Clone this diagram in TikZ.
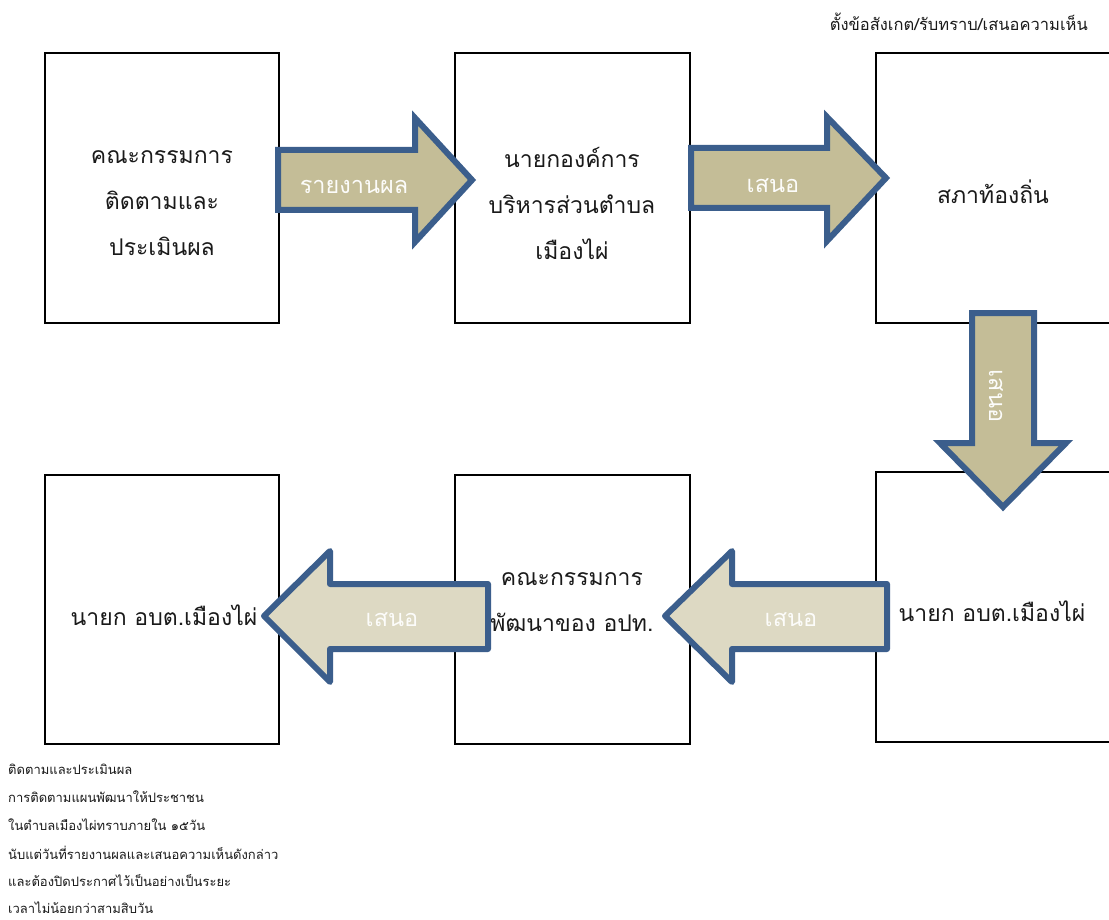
\documentclass[tikz,border=0pt]{standalone}
\usepackage{fontspec}
\newfontfamily\thai[Script=Thai]{Loma}
\definecolor{tanA}{HTML}{C4BD97}
\definecolor{tanB}{HTML}{DDD9C3}
\definecolor{arrowblue}{HTML}{3B5E8C}
\definecolor{inktext}{HTML}{1A1A1A}
\tikzset{
  box/.style={draw=black, line width=1.2pt, fill=white, inner sep=0pt},
  boxtext/.style={font=\thai\fontsize{23}{46}\selectfont, text=inktext, align=center},
  bigarrow/.style={draw=arrowblue, line width=6pt, fill=tanA, line join=miter},
  lightarrow/.style={draw=arrowblue, line width=6pt, fill=tanB, line join=round},
  arrowtext/.style={font=\thai\fontsize{23.5}{26}\selectfont, text=white!95!tanA},
  smalltext/.style={font=\thai\fontsize{13}{16}\selectfont, text=inktext, anchor=west, inner sep=0pt}
}
\begin{document}
\begin{tikzpicture}[x=1pt,y=-1pt]
\clip (0,0) rectangle (1109,920);
\fill[white] (0,0) rectangle (1109,920);
% boxes
\node[box, minimum width=234pt, minimum height=270pt] (b1) at (162,188) {};
\node[box, minimum width=235pt, minimum height=270pt] (b2) at (572.5,188) {};
\node[box, minimum width=250pt, minimum height=270pt] (b3) at (1001,188) {};
\node[box, minimum width=250pt, minimum height=270pt] (b4) at (1001,607) {};
\node[box, minimum width=235pt, minimum height=269pt] (b5) at (572.5,609.5) {};
\node[box, minimum width=234pt, minimum height=269pt] (b6) at (162,609.5) {};
% box texts
\node[boxtext] (t1) at (162,203) {คณะกรรมการ\\ติดตามและ\\ประเมินผล};
\node[boxtext] (t2) at (572,203) {นายกองค์การ\\บริหารส่วนตำบล\\เมืองไผ่};
\node[boxtext] (t3) at (993,192) {สภาท้องถิ่น};
\node[boxtext] (t4) at (992,611) {นายก อบต.เมืองไผ่};
\node[boxtext] (t5) at (572,602) {คณะกรรมการ\\พัฒนาของ อปท.};
\node[boxtext] (t6) at (164,615) {นายก อบต.เมืองไผ่};
% arrows
\draw[bigarrow] (278,150) -- (415,150) -- (415,118) -- (472,180) -- (415,242) -- (415,210) -- (278,210) -- cycle;
\node[arrowtext] (a1) at (354,187) {รายงานผล};
\draw[bigarrow] (691,148) -- (827,148) -- (827,117) -- (886,178) -- (827,241) -- (827,208) -- (691,208) -- cycle;
\node[arrowtext] (a2) at (773,186) {เสนอ};
\draw[bigarrow] (972,313) -- (1034,313) -- (1034,443) -- (1066,443) -- (1003,507) -- (940,443) -- (972,443) -- cycle;
\node[arrowtext, rotate=-90] (a3) at (996,396) {เสนอ};
\draw[lightarrow] (887,584) -- (732,584) -- (732,551) -- (665,616) -- (732,682) -- (732,649) -- (887,649) -- cycle;
\node[arrowtext] (a4) at (791,620) {เสนอ};
\draw[lightarrow] (488,584) -- (330,584) -- (330,551) -- (264,616) -- (330,682) -- (330,649) -- (488,649) -- cycle;
\node[arrowtext] (a5) at (392,620) {เสนอ};
% top label
\node[font=\thai\fontsize{16.5}{18}\selectfont, text=inktext, anchor=east, inner sep=0pt] (lbl) at (1088,22) {ตั้งข้อสังเกต/รับทราบ/เสนอความเห็น};
% footer
\node[smalltext] (f1) at (8,769) {ติดตามและประเมินผล};
\node[smalltext] (f2) at (8,797) {การติดตามแผนพัฒนาให้ประชาชน};
\node[smalltext] (f3) at (8,825) {ในตำบลเมืองไผ่ทราบภายใน ๑๕วัน};
\node[smalltext] (f4) at (8,853) {นับแต่วันที่รายงานผลและเสนอความเห็นดังกล่าว};
\node[smalltext] (f5) at (8,881) {และต้องปิดประกาศไว้เป็นอย่างเป็นระยะ};
\node[smalltext] (f6) at (8,908) {เวลาไม่น้อยกว่าสามสิบวัน};
\end{tikzpicture}
\end{document}
